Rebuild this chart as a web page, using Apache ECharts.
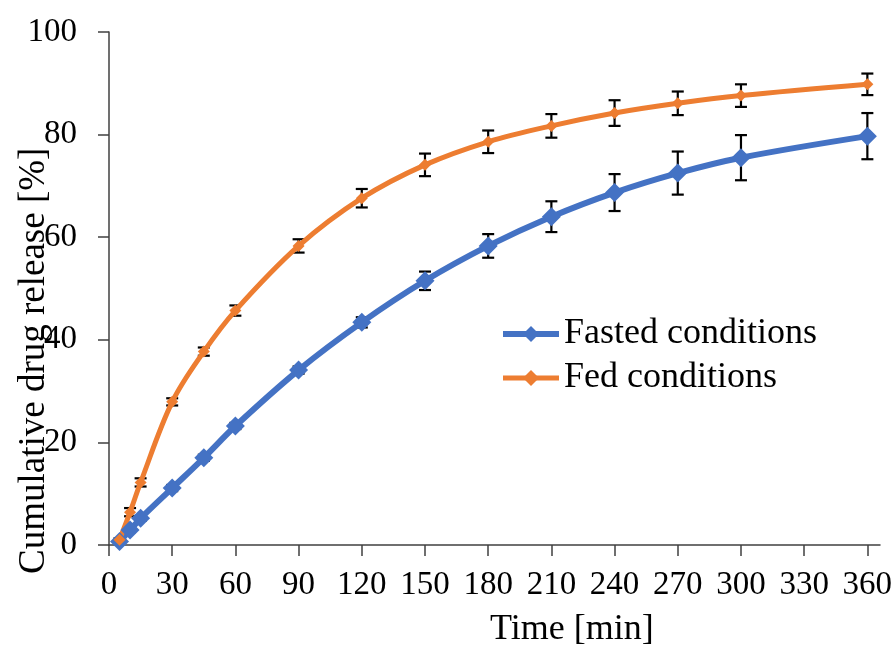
<!DOCTYPE html>
<html>
<head>
<meta charset="utf-8">
<script src="https://cdn.jsdelivr.net/npm/echarts@6/dist/echarts.min.js"></script>
<style>
html,body{margin:0;padding:0;background:#fff;}
#chart{width:896px;height:650px;}
</style>
</head>
<body>
<div id="chart"></div>
<script>
var times = [5, 10, 15, 30, 45, 60, 90, 120, 150, 180, 210, 240, 270, 300, 360];
var fastedValues = [0.7, 2.9, 5.2, 11.1, 17.0, 23.2, 34.1, 43.4, 51.5, 58.3, 64.0, 68.7, 72.5, 75.5, 79.7];
var fastedErrors = [0.3, 0.4, 0.5, 0.6, 0.6, 0.6, 0.7, 1.0, 1.8, 2.3, 3.0, 3.6, 4.2, 4.4, 4.5];
var fedValues = [1.0, 6.4, 12.2, 27.9, 37.7, 45.7, 58.3, 67.6, 74.1, 78.6, 81.7, 84.2, 86.1, 87.6, 89.8];
var fedErrors = [0.3, 0.8, 0.8, 0.7, 0.8, 1.0, 1.3, 1.8, 2.2, 2.2, 2.3, 2.5, 2.3, 2.2, 2.1];
var xTicks = [0, 30, 60, 90, 120, 150, 180, 210, 240, 270, 300, 330, 360];
var yTicks = [0, 20, 40, 60, 80, 100];
var seriesNames = ['Fasted conditions', 'Fed conditions'];
var xAxisTitle = 'Time [min]';
var yAxisTitle = 'Cumulative drug release [%]';

var FONT = '"Liberation Serif", "Times New Roman", serif';
var BLUE = '#4472C4', ORANGE = '#ED7D31';

function pairs(xs, ys) { return xs.map(function (x, i) { return [x, ys[i]]; }); }
function errData(xs, ys, es) { return xs.map(function (x, i) { return [x, ys[i] - es[i], ys[i] + es[i]]; }); }

function errRender(params, api) {
  var x = api.value(0);
  var lo = api.coord([x, api.value(1)]);
  var hi = api.coord([x, api.value(2)]);
  var cap = 6;
  var st = { stroke: '#000', lineWidth: 2.2 };
  return {
    type: 'group',
    children: [
      { type: 'line', shape: { x1: lo[0], y1: lo[1], x2: hi[0], y2: hi[1] }, style: st },
      { type: 'line', shape: { x1: lo[0] - cap, y1: lo[1], x2: lo[0] + cap, y2: lo[1] }, style: st },
      { type: 'line', shape: { x1: hi[0] - cap, y1: hi[1], x2: hi[0] + cap, y2: hi[1] }, style: st }
    ]
  };
}

var chart = echarts.init(document.getElementById('chart'), null, { renderer: 'canvas' });
chart.setOption({
  backgroundColor: '#fff',
  animation: false,
  grid: { left: 109, right: 16, top: 32, bottom: 105, containLabel: false },
  legend: {
    data: [
      { name: seriesNames[0], lineStyle: { width: 6 } },
      { name: seriesNames[1], lineStyle: { width: 5 } }
    ],
    orient: 'vertical',
    left: 495,
    top: 310,
    itemWidth: 56,
    itemHeight: 20,
    itemGap: 6,
    textStyle: { fontFamily: FONT, fontSize: 36, color: '#000', lineHeight: 38 }
  },
  xAxis: {
    type: 'value',
    min: 0,
    max: 366,
    interval: 30,
    splitLine: { show: false },
    axisLine: { onZero: false, lineStyle: { color: '#404040', width: 1.5 } },
    axisTick: { show: true, inside: false, length: 11, customValues: xTicks, lineStyle: { color: '#404040', width: 1.5 } },
    axisLabel: { customValues: xTicks, fontFamily: FONT, fontSize: 33, color: '#000', margin: 24 }
  },
  yAxis: {
    type: 'value',
    min: 0,
    max: 100,
    interval: 20,
    splitLine: { show: false },
    axisLine: { show: true, lineStyle: { color: '#404040', width: 1.5 } },
    axisTick: { show: true, inside: false, length: 11, customValues: yTicks, lineStyle: { color: '#404040', width: 1.5 } },
    axisLabel: { customValues: yTicks, fontFamily: FONT, fontSize: 33, color: '#000', margin: 32 }
  },
  graphic: [
    { type: 'text', left: 490, top: 612, style: { text: xAxisTitle, font: '36px ' + FONT, fill: '#000' } },
    { type: 'text', x: 16, y: 574, rotation: Math.PI / 2, style: { text: yAxisTitle, font: '37px ' + FONT, fill: '#000', textAlign: 'left', textVerticalAlign: 'top' } }
  ],
  series: [
    { type: 'custom', renderItem: errRender, data: errData(times, fastedValues, fastedErrors), encode: { x: 0, y: [1, 2] }, z: 2, silent: true },
    { type: 'custom', renderItem: errRender, data: errData(times, fedValues, fedErrors), encode: { x: 0, y: [1, 2] }, z: 2, silent: true },
    {
      name: seriesNames[0], type: 'line', data: pairs(times, fastedValues),
      smooth: 0.35, symbol: 'diamond', symbolSize: 19,
      lineStyle: { color: BLUE, width: 6 }, itemStyle: { color: BLUE }, z: 3
    },
    {
      name: seriesNames[1], type: 'line', data: pairs(times, fedValues),
      smooth: 0.35, symbol: 'diamond', symbolSize: 12,
      lineStyle: { color: ORANGE, width: 5 }, itemStyle: { color: ORANGE }, z: 3
    }
  ]
});
</script>
</body>
</html>
